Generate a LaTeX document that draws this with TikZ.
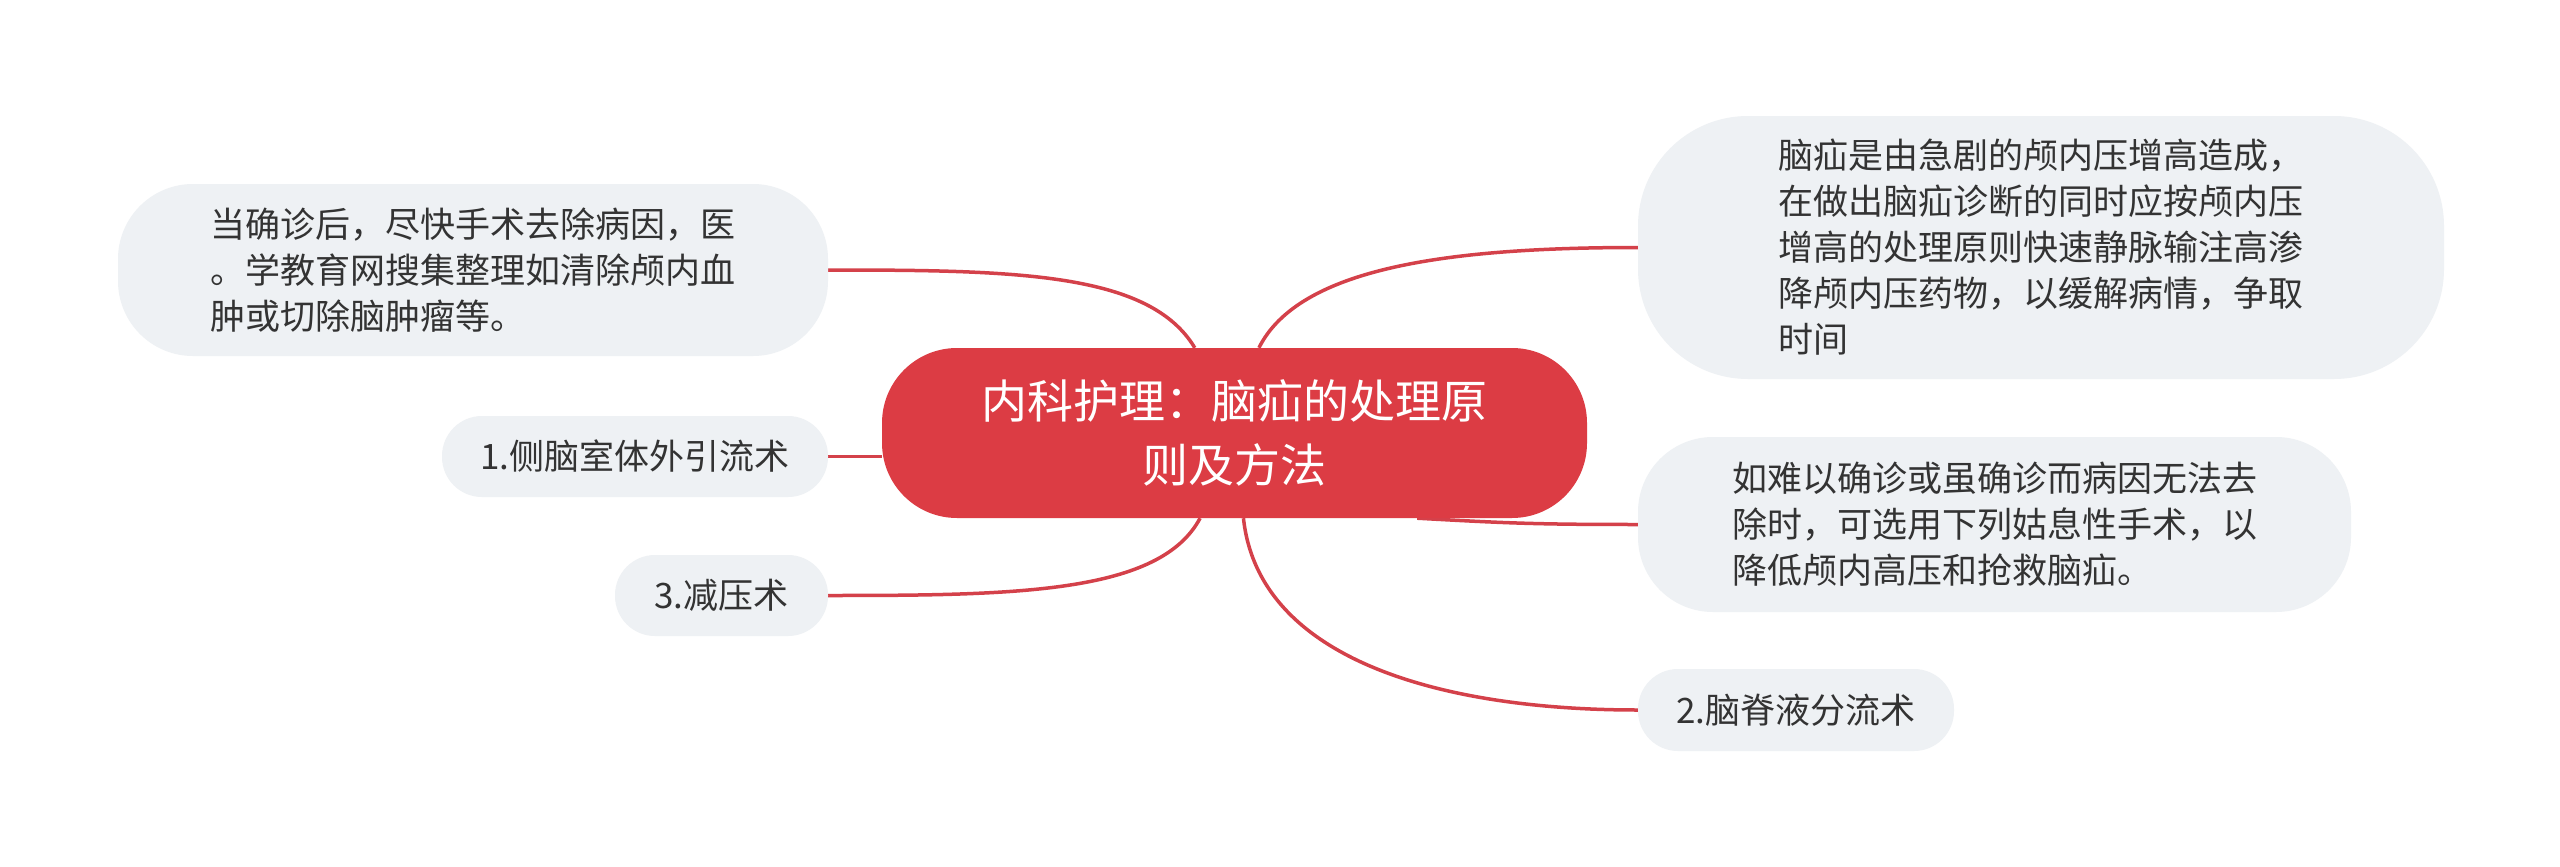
\documentclass[tikz,border=0pt]{standalone}
\usepackage{fontspec}
\newfontfamily\cjk{Noto Sans CJK SC}
\usetikzlibrary{backgrounds}

\definecolor{topicred}{HTML}{DC3C44}
\definecolor{linkred}{HTML}{D4414A}
\definecolor{leafgray}{HTML}{EEF1F4}
\definecolor{leaftext}{HTML}{333333}

\tikzset{
  topic/.style={fill=topicred, text=white, font={\cjk\fontsize{46}{64}\selectfont},
    align=center, inner sep=0pt, rounded corners=75pt,
    minimum width=705pt, minimum height=170pt},
  leaf/.style={fill=leafgray, text=leaftext, font={\cjk\fontsize{35}{46}\selectfont},
    align=left, inner sep=0pt},
  link/.style={draw=linkred, line width=3.5pt},
}

\begin{document}
\begin{tikzpicture}[x=1pt, y=-1pt]

    % --- Canvas ---
    \useasboundingbox (0, 0) rectangle (2560, 867);

    % --- Central topic ---
    \node[topic] (root) at (1234.5, 433) {内科护理：脑疝的处理原\\则及方法};

    % --- Left branches ---
    % Surgery after diagnosis
    \node[leaf, rounded corners=75pt, minimum width=710pt, minimum height=172pt]
      (surgery) at (473, 270)
      {当确诊后，尽快手术去除病因，医\\。学教育网搜集整理如清除颅内血\\肿或切除脑肿瘤等。};
    % 1. ventricular drainage
    \node[leaf, rounded corners=40pt, minimum width=386pt, minimum height=81pt]
      (drain) at (635, 456.5) {1.侧脑室体外引流术};
    % 3. decompression
    \node[leaf, rounded corners=40pt, minimum width=213pt, minimum height=81pt]
      (decomp) at (721.5, 595.5) {3.减压术};

    % --- Right branches ---
    % Cause and first treatment
    \node[leaf, rounded corners=110pt, minimum width=806pt, minimum height=263pt]
      (cause) at (2041, 247.5)
      {脑疝是由急剧的颅内压增高造成，\\在做出脑疝诊断的同时应按颅内压\\增高的处理原则快速静脉输注高渗\\降颅内压药物，以缓解病情，争取\\时间};
    % Palliative surgery
    \node[leaf, rounded corners=75pt, minimum width=713pt, minimum height=175pt]
      (palliative) at (1994.5, 524.5)
      {如难以确诊或虽确诊而病因无法去\\除时，可选用下列姑息性手术，以\\降低颅内高压和抢救脑疝。};
    % 2. CSF shunt
    \node[leaf, rounded corners=40pt, minimum width=316pt, minimum height=82pt]
      (shunt) at (1796, 710) {2.脑脊液分流术};

    % --- Connectors (behind the nodes) ---
    \begin{scope}[on background layer]
      \fill[white] (0, 0) rectangle (2560, 867);
      \draw[link] (root.115) .. controls +(-45, -75) and +(190, 0) .. (surgery.east);
      \draw[link] (root.west |- drain.east) -- (drain.east);
      \draw[link] (root.248) .. controls +(-40, 75) and +(190, 0) .. (decomp.east);
      \draw[link] (root.74) .. controls +(40, -80) and +(-190, 0) .. (cause.west);
      \draw[link] (root.335) .. controls +(90, 5) and +(-100, 0) .. (palliative.west);
      \draw[link] (root.276) .. controls +(15, 140) and +(-200, 0) .. (shunt.west);
    \end{scope}

\end{tikzpicture}
\end{document}
